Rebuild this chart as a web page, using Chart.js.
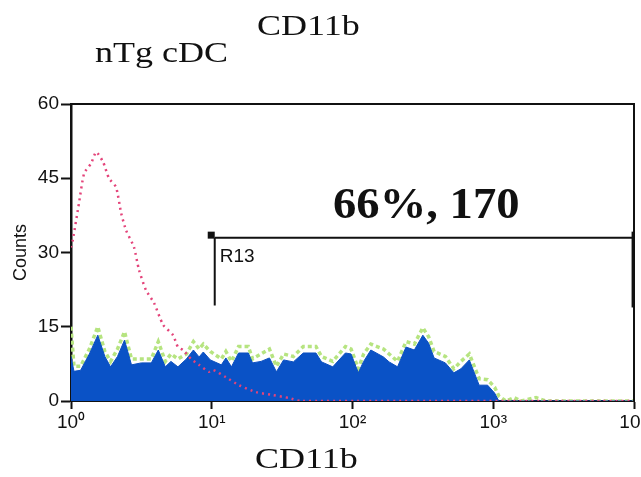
<!DOCTYPE html>
<html>
<head>
<meta charset="utf-8">
<script src="https://cdn.jsdelivr.net/npm/chart.js@4.4.1/dist/chart.umd.min.js"></script>
<style>
  html, body { margin: 0; padding: 0; background: #fff; }
  canvas { display: block; }
</style>
</head>
<body>
<canvas id="chart1" width="641" height="477"></canvas>
<script>
// CD11b intensity (channel position) and counts
let blueX = [1.00,1.05,1.17,1.35,1.55,1.74,1.91,2.14,2.40,2.69,3.16,3.72,4.17,4.68,5.13,5.75,6.61,7.41,8.13,8.71,
  9.77,11.7,12.6,13.8,15.5,18.2,19.5,22.4,25.7,28.8,32.4,38.0,44.7,55.0,60.3,72.4,89.1,97.7,110,120,
  135,166,182,209,240,275,316,347,380,457,525,589,676,794,912,1023,1096,1349,10000];
let blueY = [9,6,6.2,9.5,13.3,9,6.9,9,12.3,7.3,7.7,7.7,10.3,6.9,8,6.9,8.5,10.3,8.9,9.9,
  8.3,7.3,8.7,6.9,9.7,9.7,7.7,8,8.7,5.9,8.3,7.9,9.7,9.7,7.9,6.9,9.7,9.5,5.7,8,
  10.3,8.9,7.9,6.9,10.9,10.3,13.3,11.7,8.7,7.7,5.7,6.5,8.3,3.2,3.2,1.6,0,0,0];

let greenX = [1.00,1.05,1.17,1.35,1.55,1.74,1.91,2.14,2.40,2.69,3.16,3.72,4.17,4.68,5.13,5.75,6.61,7.41,8.13,8.71,
  9.77,11.7,12.6,13.8,15.5,18.2,19.5,22.4,25.7,28.8,32.4,38.0,44.7,55.0,60.3,72.4,89.1,97.7,110,120,
  135,166,182,209,240,275,316,347,380,457,525,589,676,794,912,1023,1096,1233,1404,1575,2014,2371,10000];
let greenY = [15,7,7,10.5,15,10,8,10.5,14,8.5,8.5,8.5,12,8,9.5,8.5,9.5,12,10.5,11.5,
  10,8.5,10,8,11,11,8.5,9.5,10.5,7,9.5,9,11,11,9,8,11,10.5,6.5,9.5,
  11.5,10.5,9.5,8,12,11.5,14.8,13,10,9,6.5,8,9.5,4.5,4.3,2.8,1,0,0.7,0,0.7,0,0];

let redX = [1.00,1.03,1.14,1.24,1.39,1.51,1.69,1.86,2.09,2.27,2.46,2.80,3.04,3.41,3.89,4.51,5.31,5.75,6.25,7.12,
  8.12,9.56,10.2,12.6,15.6,20.6,27.2,35.4,43.1,10000];
let redY = [31,32.5,40,46,48,50.3,48.3,45,43.2,38,34.5,31.1,26.5,22.4,19.8,15.4,13.3,10.9,10.3,8.5,
  7.3,5.9,6.3,4.8,3.2,1.8,1.2,0.6,0,0];

let xTicks = [1,10,100,1000,10000];
let xTickLabels = ["10\u2070","10\u00b9","10\u00b2","10\u00b3","10\u2074"];
let yTicks = [0,15,30,45,60];

// region marker R13
let gateX = [10.5, 9850];
let gateLevel = 33;
let gateLow = 19.3;

function pts(xs, ys){
  return xs.map((x,i)=>({x:x, y:ys[i]}));
}

let overlay = {
  id: "overlay",
  afterDatasetsDraw(chart){
    let ctx = chart.ctx, a = chart.chartArea;
    let sx = chart.scales.x, sy = chart.scales.y;
    ctx.save();
    // frame top + right
    ctx.strokeStyle = "#111";
    ctx.lineWidth = 2;
    ctx.beginPath();
    ctx.moveTo(a.left, a.top); ctx.lineTo(a.right, a.top); ctx.lineTo(a.right, a.bottom);
    ctx.stroke();

    // gate
    let x1 = sx.getPixelForValue(gateX[0]), x2 = sx.getPixelForValue(gateX[1]);
    let yl = sy.getPixelForValue(gateLevel), yb = sy.getPixelForValue(gateLow);
    ctx.lineWidth = 2;
    ctx.beginPath();
    ctx.moveTo(x1, yl); ctx.lineTo(x2, yl);
    ctx.moveTo(x1, yl); ctx.lineTo(x1, yb);
    ctx.stroke();
    ctx.lineWidth = 3;
    ctx.beginPath();
    ctx.moveTo(x2, yl - 6); ctx.lineTo(x2, yb + 2);
    ctx.stroke();
    ctx.fillStyle = "#111";
    ctx.fillRect(x1 - 7, yl - 6, 7, 7);

    ctx.font = "19px 'Liberation Sans', Arial, sans-serif";
    ctx.textBaseline = "alphabetic";
    ctx.fillText("R13", x1 + 5, yl + 24);
    ctx.restore();
  },
  afterDraw(chart){
    let ctx = chart.ctx;
    ctx.save();
    ctx.fillStyle = "#111";
    ctx.textBaseline = "alphabetic";
    function stretched(txt, x, y, font, k){
      ctx.save();
      ctx.font = font;
      ctx.translate(x, y);
      ctx.scale(k, 1);
      ctx.fillText(txt, 0, 0);
      ctx.restore();
    }
    stretched("nTg cDC", 95, 62, "30px 'Liberation Serif', 'Times New Roman', serif", 1.2);
    stretched("CD11b", 257, 35, "30px 'Liberation Serif', 'Times New Roman', serif", 1.2);
    stretched("CD11b", 255, 468, "30px 'Liberation Serif', 'Times New Roman', serif", 1.2);
    stretched("66%, 170", 333, 218, "bold 44px 'Liberation Serif', 'Times New Roman', serif", 1.06);
    ctx.restore();
  }
};

let tickFont = {family:"'Liberation Sans', Arial, sans-serif", size:19};

let chart1 = new Chart(document.getElementById("chart1"),{
  type:"line",
  data:{
    datasets:[
      {label:"isotype", data:pts(redX, redY), order:0, borderColor:"#e4447a", borderWidth:2.5,
        borderDash:[2,4], pointRadius:0, fill:false, tension:0.2},
      {label:"CD11b", data:pts(blueX, blueY), order:1, borderColor:"#0b4fc0", borderWidth:1,
        backgroundColor:"#0a52c6", pointRadius:0, fill:"origin", tension:0},
      {label:"CD11b outline", data:pts(greenX, greenY), order:2, borderColor:"#b6e480", borderWidth:3.5,
        borderDash:[4,3], pointRadius:0, fill:false, tension:0}
    ]
  },
  options:{
    responsive:false,
    animation:false,
    layout:{padding:{left:0, top:104, right:7, bottom:0}},
    plugins:{legend:{display:false}, tooltip:{enabled:false}},
    scales:{
      x:{
        type:"logarithmic", min:1, max:10000,
        afterBuildTicks: s => { s.ticks = xTicks.map(v=>({value:v})); },
        afterFit: s => { s.height = 76; s.paddingLeft = 0; s.paddingRight = 0; },
        ticks:{callback:(v,i)=>xTickLabels[i], font:tickFont, color:"#111", padding:2, maxRotation:0, autoSkip:false},
        grid:{drawOnChartArea:false, tickLength:8, tickColor:"#111", tickWidth:2},
        border:{color:"#111", width:2}
      },
      y:{
        min:0, max:60,
        afterBuildTicks: s => { s.ticks = yTicks.map(v=>({value:v})); },
        afterFit: s => { s.width = 71; s.paddingTop = 0; s.paddingBottom = 0; },
        ticks:{font:tickFont, color:"#111", padding:2},
        grid:{drawOnChartArea:false, tickLength:10, tickColor:"#111", tickWidth:2},
        border:{color:"#111", width:2.5},
        title:{display:true, text:"Counts", color:"#111", padding:{top:10, bottom:0},
          font:{family:"'Liberation Sans', Arial, sans-serif", size:18}}
      }
    }
  },
  plugins:[overlay]
});
</script>
</body>
</html>
